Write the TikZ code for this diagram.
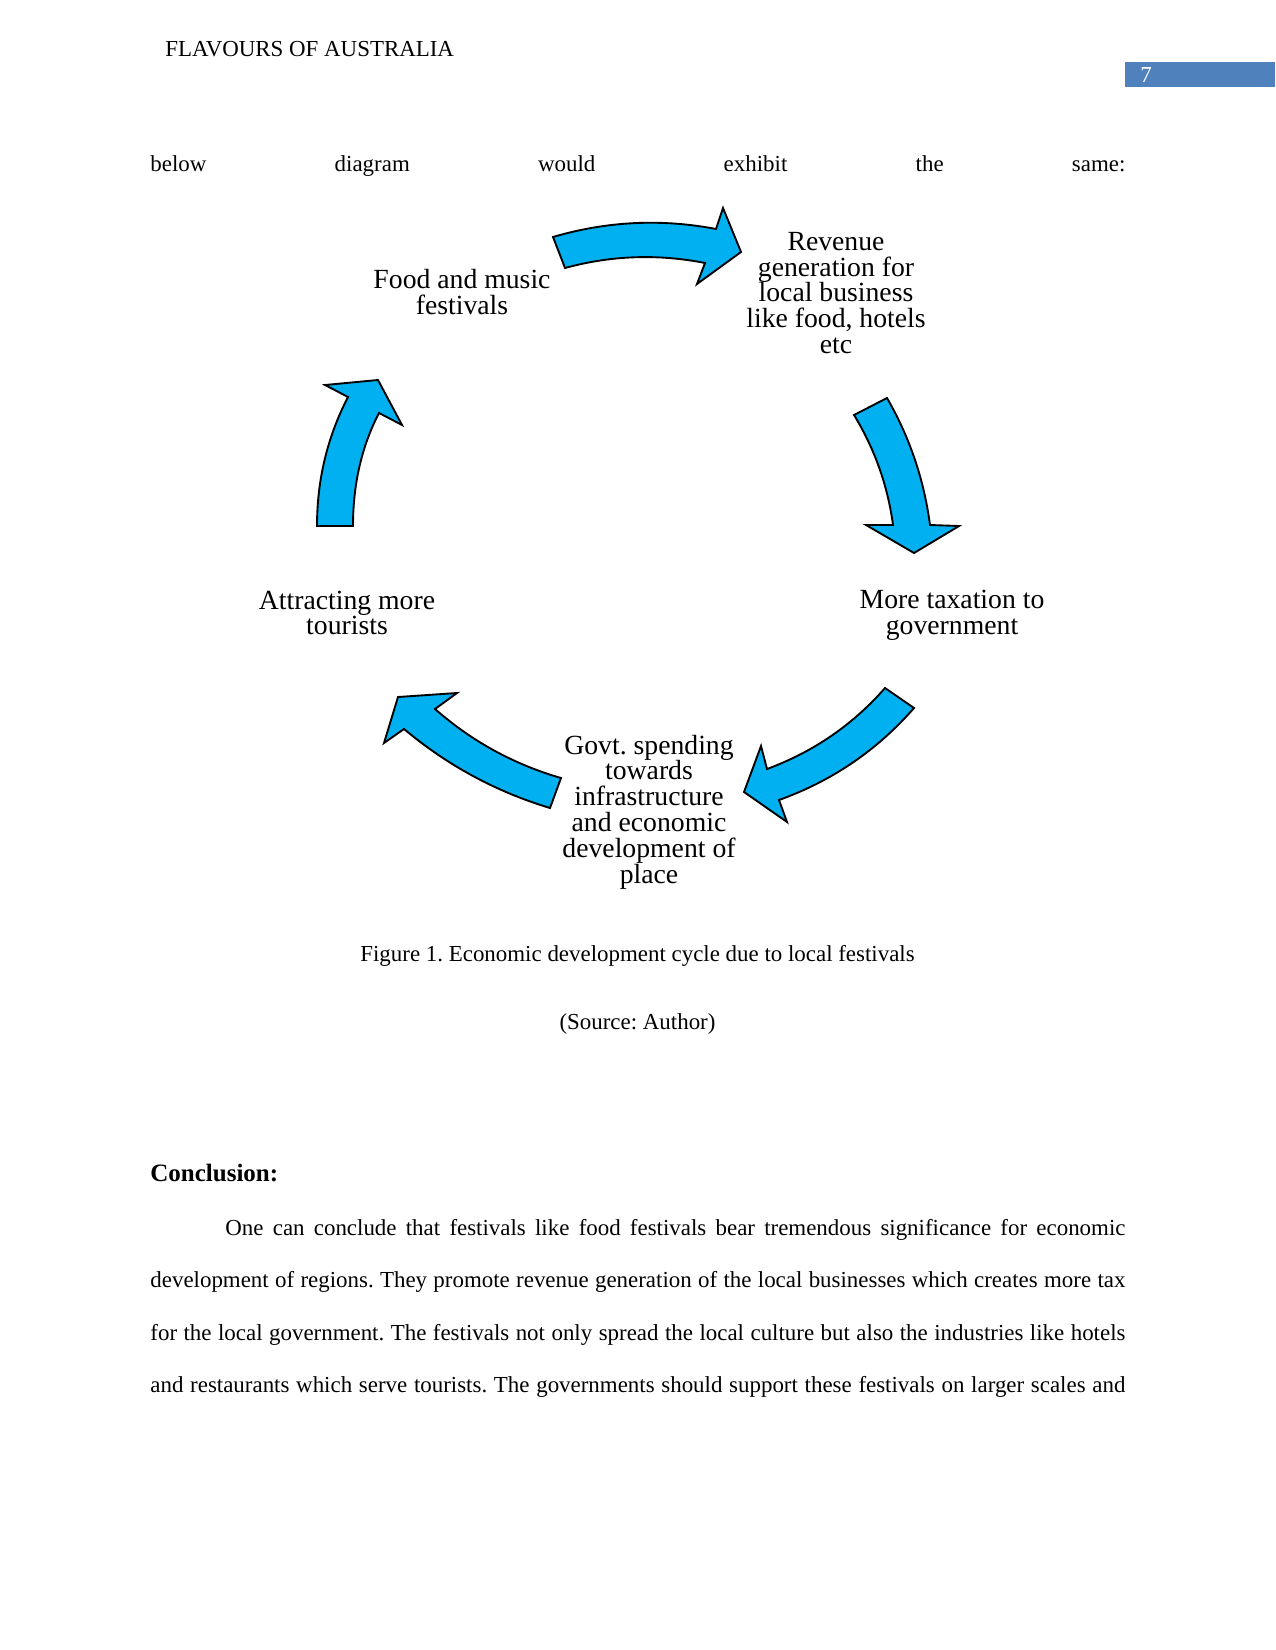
\documentclass[tikz,border=0pt]{standalone}
\usepackage{fontspec}
\setmainfont{Liberation Serif}
\usepackage{xcolor}
\definecolor{cycblue}{HTML}{00B0F0}
\definecolor{hdrblue}{HTML}{4F81BD}
\frenchspacing

\begin{document}
\begin{tikzpicture}[x=0.48pt, y=-0.48pt,
    every node/.style={inner sep=0pt},
    body/.style={font=\fontsize{11}{13}\selectfont, anchor=west},
    cyctext/.style={align=center, font=\fontsize{13.3}{12.4}\selectfont},
    cycarrow/.style={fill=cycblue, draw=black, line width=0.9pt, line join=miter}]
    \fill[white] (0,0) rectangle (1275,1650);
    \useasboundingbox (0,0) rectangle (1275,1650);
    \node[anchor=west, font=\fontsize{11}{13}\selectfont] (hdr) at (165,49) {FLAVOURS OF AUSTRALIA};
    \fill[hdrblue] (1125,62) rectangle (1275,87);
    \node[anchor=west, text=white, font=\fontsize{11}{13}\selectfont] (pgnum) at (1140,75) {7};
    \node[body] (lead) at (150,166) {\makebox[468pt][s]{below diagram would exhibit the same:}};
    \draw[cycarrow] (553,237) .. controls (606.8,221.2) and (661.1,218.5) .. (716,229) -- (723,208) -- (741,252)
      -- (697,284) -- (705,263) .. controls (657.7,253.7) and (611.1,255.4) .. (565,268) -- cycle;
    \draw[cycarrow] (854,415) -- (887,398) .. controls (909.7,437.3) and (924,479.7) .. (930,525) -- (959,526)
      -- (914,553) -- (866,525) -- (893,525) .. controls (887.7,485.7) and (874.7,449) .. (854,415) -- cycle;
    \draw[cycarrow] (885,688) -- (914,708) .. controls (877.1,750.3) and (832.1,780.9) .. (779,800) -- (787,822)
      -- (744,792) -- (761,746) -- (767,769) .. controls (813.2,751.9) and (852.5,725.1) .. (885,688) -- cycle;
    \draw[cycarrow] (561,778) -- (550,808) .. controls (495.9,791.7) and (447.3,765.3) .. (404,729) -- (384,743)
      -- (398,697) -- (457,693) -- (435,709) .. controls (471.9,741.4) and (513.9,764.4) .. (561,778) -- cycle;
    \draw[cycarrow] (317,526) .. controls (317,480) and (327.3,437) .. (348,397) -- (325,385) -- (378,380)
      -- (402,425) -- (379,413) .. controls (361.7,446.3) and (353,484) .. (353,526) -- cycle;
    \node[cyctext] (food) at (462,292) {Food and music\\festivals};
    \node[cyctext] (revenue) at (836,293) {Revenue\\generation for\\local business\\like food, hotels\\etc};
    \node[cyctext] (taxation) at (952,615) {More taxation to\\government};
    \node[cyctext] (govt) at (649,812) {Govt. spending\\towards\\infrastructure\\and economic\\development of\\place};
    \node[cyctext] (tourists) at (347,613) {Attracting more\\tourists};
    \node[body, anchor=center] (caption) at (637.5,956) {Figure 1. Economic development cycle due to local festivals};
    \node[body, anchor=center] (source) at (637.5,1024) {(Source: Author)};
    \node[body, font=\fontsize{12}{14}\bfseries] (concl) at (150,1173) {Conclusion:};
    \node[body] (para1) at (225,1230) {\makebox[432pt][s]{One can conclude that festivals like food festivals bear tremendous significance for economic}};
    \node[body] (para2) at (150,1282) {\makebox[468pt][s]{development of regions. They promote revenue generation of the local businesses which creates more tax}};
    \node[body] (para3) at (150,1335) {\makebox[468pt][s]{for the local government. The festivals not only spread the local culture but also the industries like hotels}};
    \node[body] (para4) at (150,1387) {\makebox[468pt][s]{and restaurants which serve tourists. The governments should support these festivals on larger scales and}};
\end{tikzpicture}
\end{document}
